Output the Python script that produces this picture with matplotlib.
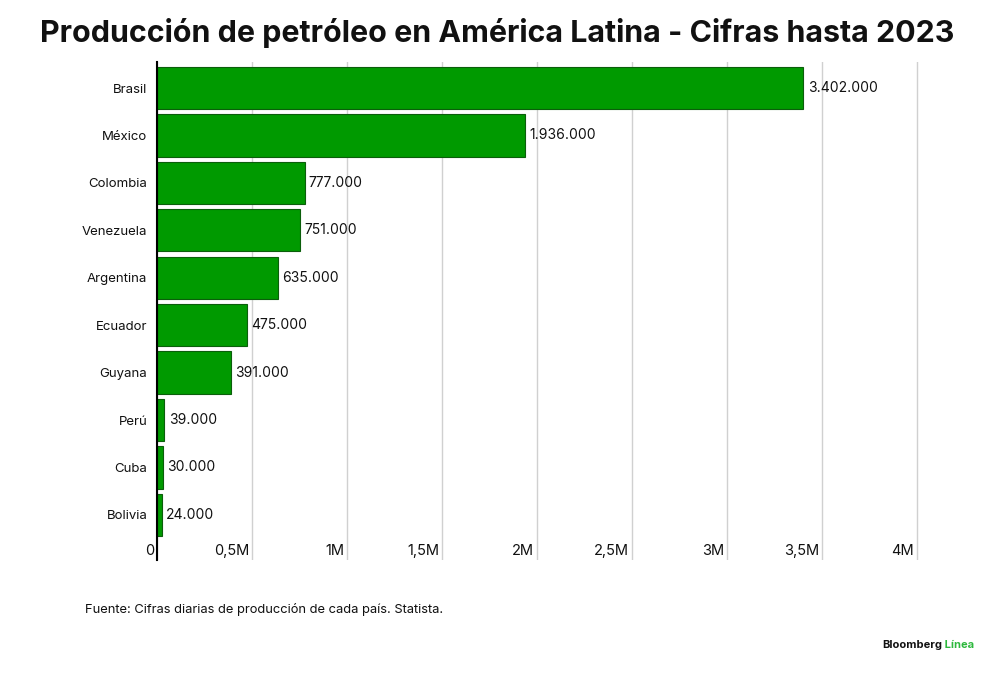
import matplotlib.pyplot as plt
from matplotlib.transforms import ScaledTranslation

paises = ["Brasil", "México", "Colombia", "Venezuela", "Argentina",
          "Ecuador", "Guyana", "Perú", "Cuba", "Bolivia"]
produccion = [3402000, 1936000, 777000, 751000, 635000,
              475000, 391000, 39000, 30000, 24000]
ticks = [0, 500000, 1000000, 1500000, 2000000, 2500000, 3000000, 3500000, 4000000]
tick_labels = ["0", "0,5M", "1M", "1,5M", "2M", "2,5M", "3M", "3,5M", "4M"]

plt.rcParams["font.family"] = ["Inter", "DejaVu Sans"]
verde = "#009a00"

fig = plt.figure(figsize=(10, 6.73), dpi=100)
ax = fig.add_axes([0.157, 0.168, 0.762, 0.740])

y = list(range(len(paises)))
ax.barh(y, produccion, height=0.89, color=verde, edgecolor="#0b5e0b", linewidth=0.8, zorder=3)

for yi, v in zip(y, produccion):
    ax.annotate(f"{v:,}".replace(",", "."), (v, yi), xytext=(3, 0), textcoords="offset points",
                va="center", ha="left", fontsize=10, color="#111111")

ax.set_ylim(9.95, -0.55)
ax.set_xlim(0, 4010000)
ax.set_yticks(y)
ax.set_yticklabels(paises, fontsize=9.5, color="#111111")
ax.set_xticks(ticks)
ax.set_xticklabels(tick_labels, fontsize=10.5, color="#111111", ha="right")
ax.tick_params(axis="y", length=0, pad=7)
ax.tick_params(axis="x", length=0, pad=-11.5)
for lab in ax.get_xticklabels():
    lab.set_transform(lab.get_transform() + ScaledTranslation(-3 / 100, 0, fig.dpi_scale_trans))

ax.grid(axis="x", color="#d0d0d0", linewidth=1, zorder=0)
for s in ["top", "right", "bottom"]:
    ax.spines[s].set_visible(False)
ax.spines["left"].set_color("black")
ax.spines["left"].set_linewidth(1.5)
ax.spines["left"].set_zorder(4)

fig.text(0.497, 0.951, "Producción de petróleo en América Latina - Cifras hasta 2023",
         ha="center", va="center", fontsize=21.9, fontweight="bold", color="#111111")
fig.text(0.085, 0.095, "Fuente: Cifras diarias de producción de cada país. Statista.",
         ha="left", va="center", fontsize=9.3, color="#111111")
t1 = fig.text(0.882, 0.041, "Bloomberg", ha="left", va="center", fontsize=8,
              fontweight="bold", color="#111111")
fig.canvas.draw()
x1 = t1.get_window_extent().x1 / fig.bbox.width
fig.text(x1, 0.041, " Línea", ha="left", va="center", fontsize=8,
         fontweight="bold", color="#2db83d")

fig.savefig("out.png", dpi=100)
